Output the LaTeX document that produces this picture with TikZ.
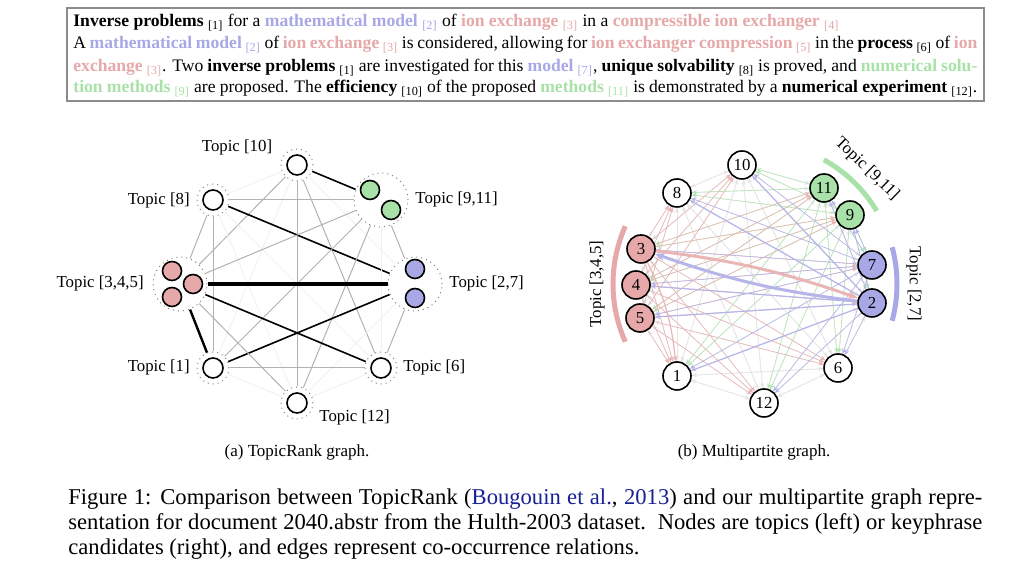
\documentclass[tikz,border=0pt]{standalone}
\usepackage{fontspec}
\setmainfont{Liberation Serif}
\usetikzlibrary{arrows.meta,backgrounds}
\definecolor{tpblue}{RGB}{168,168,230}
\definecolor{tpred}{RGB}{230,168,168}
\definecolor{tpgreen}{RGB}{168,226,168}
\definecolor{citeblue}{RGB}{24,32,150}
\newcommand{\kpk}[2]{\textbf{#1} \textsubscript{[#2]}}
\newcommand{\kpb}[2]{\textcolor{tpblue}{\textbf{#1} \textsubscript{[#2]}}}
\newcommand{\kpr}[2]{\textcolor{tpred}{\textbf{#1} \textsubscript{[#2]}}}
\newcommand{\kpg}[2]{\textcolor{tpgreen}{\textbf{#1} \textsubscript{[#2]}}}
\tikzset{
  absline/.style={anchor=base west, inner sep=0pt, font=\fontsize{8.8}{10}\selectfont},
  capline/.style={anchor=base west, inner sep=0pt, font=\fontsize{11.3}{13}\selectfont},
  subcap/.style={anchor=base, inner sep=0pt, font=\fontsize{8.5}{10}\selectfont},
  tlabel/.style={inner sep=0pt, font=\fontsize{8.4}{10}\selectfont},
  ring/.style={circle, draw=gray, dotted, line width=0.5pt, minimum size=16pt, inner sep=0pt},
  bigring/.style={ring, minimum size=27pt},
  topic/.style={circle, draw, line width=0.8pt, fill=white, minimum size=10pt, inner sep=0pt},
  tred/.style={topic, fill=tpred, minimum size=9.5pt},
  tblue/.style={topic, fill=tpblue, minimum size=9.5pt},
  tgreen/.style={topic, fill=tpgreen, minimum size=9.5pt},
  cand/.style={circle, draw, line width=0.8pt, fill=white, minimum size=14pt, inner sep=0pt, font=\fontsize{8.4}{10}\selectfont},
  cred/.style={cand, fill=tpred},
  cblue/.style={cand, fill=tpblue},
  cgreen/.style={cand, fill=tpgreen},
  heavy/.style={line width=2pt},
  strong/.style={line width=0.8pt},
  mid/.style={line width=0.5pt, gray!60},
  faint/.style={line width=0.4pt, gray!12},
  eW/.style={-{Stealth[length=2.6pt,width=2.2pt]}, line width=0.3pt, gray!20},
  eR/.style={-{Stealth[length=2.6pt,width=2.2pt]}, line width=0.3pt, tpred!85},
  eB/.style={-{Stealth[length=2.6pt,width=2.2pt]}, line width=0.3pt, tpblue!85},
  eG/.style={-{Stealth[length=2.6pt,width=2.2pt]}, line width=0.3pt, tpgreen!85},
  arcband/.style={line width=2.5pt},
  panel/.style={draw=gray!90, line width=0.6pt}
}

\begin{document}
\begin{tikzpicture}[x=0.5pt,y=0.5pt]
    \useasboundingbox (0,0) rectangle (1024,581);
    \begin{scope}[on background layer]
      \fill[white] (0,0) rectangle (1024,581);
    \end{scope}

    \draw[panel] (67,480) rectangle (984,573);
    \node[absline] (abs1) at (73,554) {\kpk{Inverse problems}{1} for a \kpb{mathematical model}{2} of \kpr{ion exchange}{3} in a \kpr{compressible ion exchanger}{4}};
    \node[absline] (abs2) at (73,532) {\makebox[452pt][s]{A \kpb{mathematical model}{2} of \kpr{ion exchange}{3} is considered, allowing for \kpr{ion exchanger compression}{5} in the \kpk{process}{6} of \textcolor{tpred}{\textbf{ion}}}};
    \node[absline] (abs3) at (73,509) {\makebox[452pt][s]{\kpr{exchange}{3}. Two \kpk{inverse problems}{1} are investigated for this \kpb{model}{7}, \kpk{unique solvability}{8} is proved, and \textcolor{tpgreen}{\textbf{numerical solu-}}}};
    \node[absline] (abs4) at (73,488) {\makebox[452pt][s]{\kpg{tion methods}{9} are proposed. The \kpk{efficiency}{10} of the proposed \kpg{methods}{11} is demonstrated by a \kpk{numerical experiment}{12}.}};

    \node[ring] (t10) at (297,416) {};
    \node[ring] (t8) at (213,381) {};
    \node[bigring] (t911) at (381,381) {};
    \node[bigring] (t27) at (415,297) {};
    \node[ring] (t6) at (381,213) {};
    \node[ring] (t12) at (297,178) {};
    \node[ring] (t1) at (213,213) {};
    \node[bigring] (t345) at (180,297) {};
    \node[topic] (c10) at (t10) {};
    \node[topic] (c8) at (t8) {};
    \node[topic] (c6) at (t6) {};
    \node[topic] (c12) at (t12) {};
    \node[topic] (c1) at (t1) {};
    \node[tgreen] (c11) at (370,391) {};
    \node[tgreen] (c9) at (391,371) {};
    \node[tblue] (c7) at (415,312) {};
    \node[tblue] (c2) at (415,283) {};
    \node[tred] (c3) at (172,310) {};
    \node[tred] (c4) at (193,297) {};
    \node[tred] (c5) at (172,284) {};
    \node[tlabel] (lab10) at (237,434) {Topic [10]};
    \node[tlabel, anchor=east] (lab8) at (190,381) {Topic [8]};
    \node[tlabel, anchor=west] (lab911) at (415,382) {Topic [9,11]};
    \node[tlabel, anchor=west] (lab27) at (449,298) {Topic [2,7]};
    \node[tlabel, anchor=east] (lab345) at (144,298) {Topic [3,4,5]};
    \node[tlabel, anchor=east] (lab1) at (190,214) {Topic [1]};
    \node[tlabel, anchor=west] (lab6) at (403,214) {Topic [6]};
    \node[tlabel, anchor=west] (lab12) at (319,164) {Topic [12]};
    \begin{scope}[on background layer]
      \draw[faint] (t10) -- (t8);
      \draw[strong] (t10) -- (t911);
      \draw[faint] (t10) -- (t27);
      \draw[mid] (t10) -- (t345);
      \draw[faint] (t10) -- (t1);
      \draw[mid] (t10) -- (t6);
      \draw[mid] (t10) -- (t12);
      \draw[mid] (t8) -- (t911);
      \draw[strong] (t8) -- (t27);
      \draw[mid] (t8) -- (t345);
      \draw[mid] (t8) -- (t1);
      \draw[faint] (t8) -- (t6);
      \draw[faint] (t8) -- (t12);
      \draw[mid] (t911) -- (t27);
      \draw[mid] (t911) -- (t345);
      \draw[mid] (t911) -- (t1);
      \draw[faint] (t911) -- (t6);
      \draw[mid] (t911) -- (t12);
      \draw[heavy] (t27) -- (t345);
      \draw[strong] (t27) -- (t1);
      \draw[mid] (t27) -- (t6);
      \draw[faint] (t27) -- (t12);
      \draw[strong, line width=1.2pt] (t345) -- (t1);
      \draw[strong] (t345) -- (t6);
      \draw[mid] (t345) -- (t12);
      \draw[mid] (t1) -- (t6);
      \draw[faint] (t1) -- (t12);
      \draw[faint] (t6) -- (t12);
    \end{scope}
    \node[subcap] (capa) at (297,124) {(a) TopicRank graph.};

    \node[cand] (n10) at (742,416) {10};
    \node[cand] (n8) at (677,388) {8};
    \node[cgreen] (n11) at (824,393) {11};
    \node[cgreen] (n9) at (850,366) {9};
    \node[cblue] (n7) at (872,316) {7};
    \node[cblue] (n2) at (872,278) {2};
    \node[cand] (n6) at (838,213) {6};
    \node[cand] (n12) at (764,178) {12};
    \node[cand] (n1) at (677,205) {1};
    \node[cred] (n5) at (640,263) {5};
    \node[cred] (n4) at (636,296) {4};
    \node[cred] (n3) at (641,332) {3};
    \draw[arcband, tpred] (755,297) ++(156:142) arc[start angle=156, end angle=204, radius=142];
    \draw[arcband, tpblue] (755,297) ++(-15:142) arc[start angle=-15, end angle=15, radius=142];
    \draw[arcband, tpgreen] (755,297) ++(31:142) arc[start angle=31, end angle=61, radius=142];
    \node[tlabel, rotate=90] (lbl345) at (597,297) {Topic [3,4,5]};
    \node[tlabel, rotate=-90] (lbl27) at (914,297) {Topic [2,7]};
    \node[tlabel, rotate=-44] (lbl911) at (867,412) {Topic [9,11]};
    \begin{scope}[on background layer]
      \draw[eW] (n1) edge (n2) edge (n3) edge (n4) edge (n5) edge (n6) edge (n7) edge (n8) edge (n9) edge (n10) edge (n11) edge (n12);
      \draw[eW] (n6) edge (n1) edge (n2) edge (n3) edge (n4) edge (n5) edge (n7) edge (n8) edge (n9) edge (n10) edge (n11) edge (n12);
      \draw[eW] (n8) edge (n1) edge (n2) edge (n3) edge (n4) edge (n5) edge (n6) edge (n7) edge (n9) edge (n10) edge (n11) edge (n12);
      \draw[eW] (n10) edge (n1) edge (n2) edge (n3) edge (n4) edge (n5) edge (n6) edge (n7) edge (n8) edge (n9) edge (n11) edge (n12);
      \draw[eW] (n12) edge (n1) edge (n2) edge (n3) edge (n4) edge (n5) edge (n6) edge (n7) edge (n8) edge (n9) edge (n10) edge (n11);
      \draw[eG] (n9) edge (n1) edge (n2) edge (n3) edge (n4) edge (n5) edge (n6) edge (n7) edge (n8) edge (n10) edge (n12);
      \draw[eG] (n11) edge (n1) edge (n2) edge (n3) edge (n4) edge (n5) edge (n6) edge (n7) edge (n8) edge (n10) edge (n12);
      \draw[eR] (n3) edge (n1) edge (n6) edge (n7) edge (n8) edge (n9) edge (n10) edge (n11) edge (n12);
      \draw[eR] (n4) edge (n1) edge (n2) edge (n6) edge (n7) edge (n8) edge (n9) edge (n10) edge (n11) edge (n12);
      \draw[eR] (n5) edge (n1) edge (n2) edge (n6) edge (n7) edge (n8) edge (n9) edge (n10) edge (n11) edge (n12);
      \draw[eB] (n2) edge (n6) edge (n9) edge (n11) edge (n12);
      \draw[eB] (n7) edge (n1) edge (n3) edge (n4) edge (n5) edge (n6) edge (n8) edge (n9) edge (n10) edge (n11) edge (n12);
      \draw[eB, line width=0.6pt] (n2) edge (n1) edge (n4) edge (n5) edge (n8) edge (n10);
      \draw[eR, line width=0.6pt] (n3) edge[bend left=10] (n1);
      \draw[eR, line width=1.5pt, -{Stealth[length=5pt,width=4pt]}] (n3) to[bend left=6] (n2);
      \draw[eB, line width=1.5pt, -{Stealth[length=5pt,width=4pt]}] (n2) to[bend left=6] (n3);
    \end{scope}
    \node[subcap] (capb) at (754,124) {(b) Multipartite graph.};

    \node[capline] (cap1) at (68,76) {\makebox[457pt][s]{Figure 1: Comparison between TopicRank (\textcolor{citeblue}{Bougouin et al.}, \textcolor{citeblue}{2013}) and our multipartite graph repre-}};
    \node[capline] (cap2) at (68,51) {\makebox[457pt][s]{sentation for document 2040.abstr from the Hulth-2003 dataset.\ \ Nodes are topics (left) or keyphrase}};
    \node[capline] (cap3) at (68,26) {candidates (right), and edges represent co-occurrence relations.};
\end{tikzpicture}
\end{document}
